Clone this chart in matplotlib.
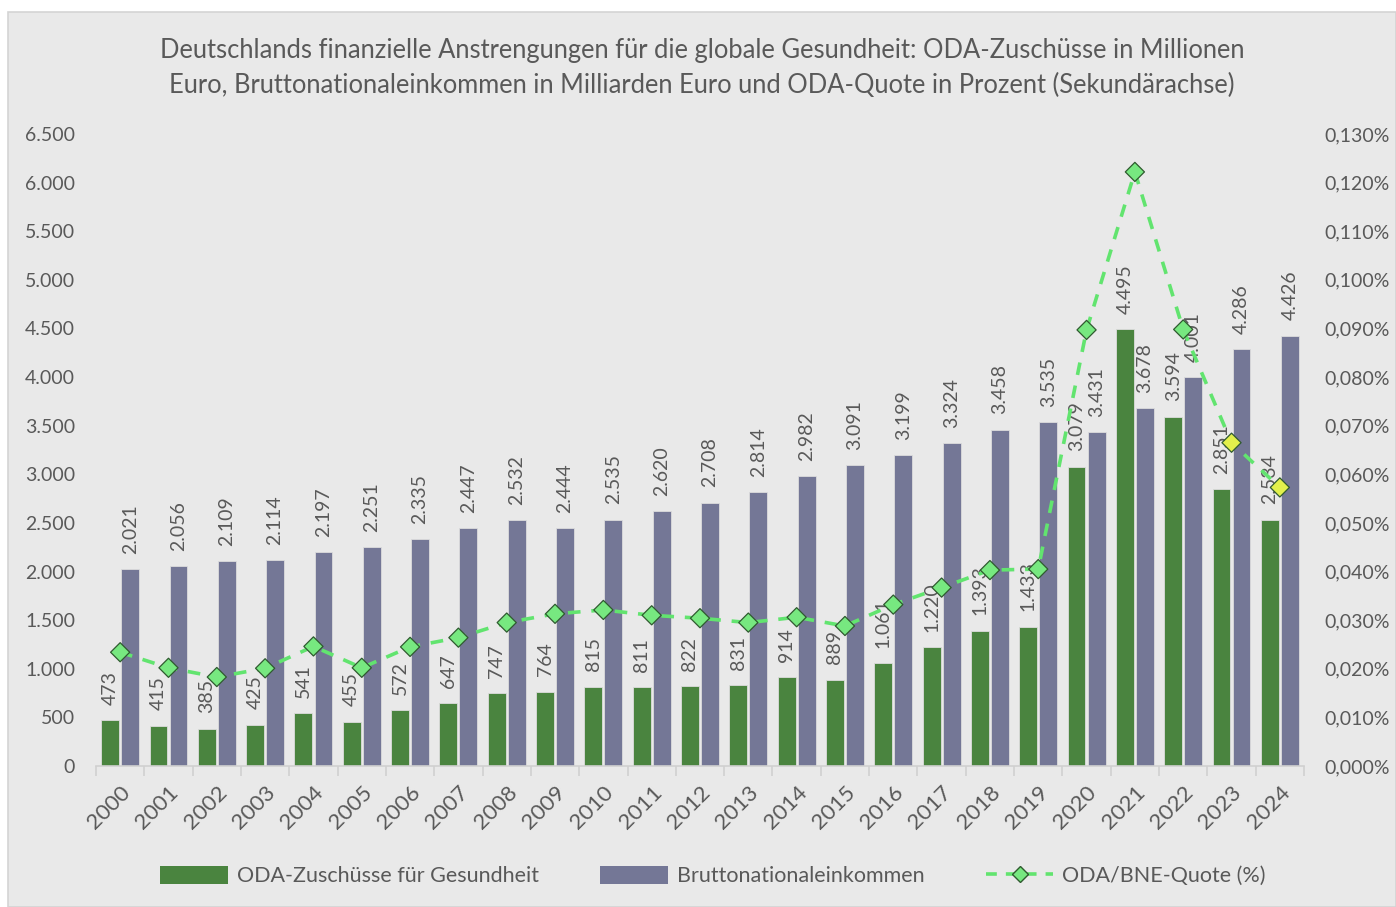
import numpy as np
import matplotlib.pyplot as plt
from matplotlib.patches import Rectangle
from matplotlib.lines import Line2D
from matplotlib.patches import Patch

plt.rcParams['font.family'] = ['Lato', 'DejaVu Sans']

years = [str(y) for y in range(2000, 2025)]
oda = [473, 415, 385, 425, 541, 455, 572, 647, 747, 764, 815, 811, 822, 831, 914,
       889, 1061, 1220, 1393, 1433, 3079, 4495, 3594, 2851, 2534]
bne = [2021, 2056, 2109, 2114, 2197, 2251, 2335, 2447, 2532, 2444, 2535, 2620, 2708,
       2814, 2982, 3091, 3199, 3324, 3458, 3535, 3431, 3678, 4001, 4286, 4426]
quote = [0.0234, 0.0202, 0.0183, 0.0201, 0.0246, 0.0202, 0.0245, 0.0264, 0.0295,
         0.0313, 0.0321, 0.0310, 0.0304, 0.0295, 0.0306, 0.0288, 0.0332, 0.0367,
         0.0403, 0.0405, 0.0897, 0.1222, 0.0898, 0.0665, 0.0573]

title = ('Deutschlands finanzielle Anstrengungen für die globale Gesundheit: ODA-Zuschüsse in Millionen\n'
         'Euro, Bruttonationaleinkommen in Milliarden Euro und ODA-Quote in Prozent (Sekundärachse)')

bg = '#e9e9e9'
txt = '#595959'
green = '#4a843f'
purple = '#747796'
line_c = '#62e46f'

fig = plt.figure(figsize=(13.96, 9.07), dpi=100, facecolor='white')
fig.patches.append(Rectangle((8 / 1396, 0), 1 - 8 / 1396, 1 - 12 / 907,
                             transform=fig.transFigure, facecolor=bg,
                             edgecolor='#d4d4d4', linewidth=1.2, zorder=-10))

ax = fig.add_axes([96 / 1396, 141 / 907, 1208 / 1396, 632 / 907])
ax.set_facecolor('none')
x = np.arange(len(years))
w = 0.37
ax.bar(x - 0.207, oda, w, color=green, edgecolor='#dcdcdc', linewidth=0.6, zorder=2)
ax.bar(x + 0.207, bne, w, color=purple, edgecolor='#dcdcdc', linewidth=0.6, zorder=2)

for i in range(len(years)):
    ax.annotate(f'{oda[i]:,}'.replace(',', '.'), (x[i] - 0.207, oda[i]),
                xytext=(0, 11), textcoords='offset points', rotation=90,
                ha='center', va='bottom', fontsize=14, color=txt, zorder=3)
    ax.annotate(f'{bne[i]:,}'.replace(',', '.'), (x[i] + 0.207, bne[i]),
                xytext=(0, 11), textcoords='offset points', rotation=90,
                ha='center', va='bottom', fontsize=14, color=txt, zorder=3)

ax.set_xlim(-0.5, len(years) - 0.5)
ax.set_ylim(0, 6500)
ax.set_yticks(np.arange(0, 6501, 500))
ax.set_yticklabels([f'{v:,}'.replace(',', '.') for v in range(0, 6501, 500)])
ax.set_xticks(np.arange(-0.5, len(years), 1))
ax.set_xticklabels([])
ax.set_xticks(x, minor=True)
ax.set_xticklabels(years, minor=True, rotation=45, ha='right', va='top',
                   rotation_mode='anchor', fontsize=16, color=txt)
ax.tick_params(axis='x', which='major', length=7, color='#d0d0d0', width=1.2)
ax.tick_params(axis='x', which='minor', length=0, pad=12)
ax.tick_params(axis='y', length=0, labelsize=14, labelcolor=txt, pad=15)
for s in ['top', 'left', 'right']:
    ax.spines[s].set_visible(False)
ax.spines['bottom'].set_color('#d0d0d0')
ax.spines['bottom'].set_linewidth(1.2)

ax2 = ax.twinx()
ax2.set_ylim(0, 0.13)
rt = np.arange(0, 0.1301, 0.01)
ax2.set_yticks(rt)
ax2.set_yticklabels([f'{v:.3f}%'.replace('.', ',') for v in rt])
ax2.tick_params(axis='y', length=0, labelsize=14, labelcolor=txt, pad=15)
for s in ax2.spines.values():
    s.set_visible(False)
ax2.plot(x, quote, color=line_c, linestyle=(0, (3.5, 3)), linewidth=2.6, zorder=3)
face = ['#77e880'] * 23 + ['#e2f04c'] * 2
ax2.scatter(x, quote, marker='D', s=95, c=face, edgecolors='#2f5a2f',
            linewidths=0.9, zorder=4)

fig.text(0.5 + 8 / 1396 / 2, 1 - 68 / 907, title, ha='center', va='center',
         fontsize=18.4, color=txt, linespacing=1.45)

handles = [Patch(facecolor=green), Patch(facecolor=purple),
           Line2D([], [], color=line_c, linestyle=(0, (3, 2.5)), linewidth=2.6,
                  marker='D', markersize=8, markerfacecolor='#77e880',
                  markeredgecolor='#2f5a2f')]
labels = ['ODA-Zuschüsse für Gesundheit', 'Bruttonationaleinkommen', 'ODA/BNE-Quote (%)']
fig.legend(handles, labels, loc='center', bbox_to_anchor=(713 / 1396, 1 - 876 / 907),
           ncol=3, frameon=False, fontsize=15.5, labelcolor=txt,
           handlelength=3.15, handleheight=0.9, columnspacing=2.85, handletextpad=0.4)

fig.savefig('out.png', dpi=100, facecolor='white')
